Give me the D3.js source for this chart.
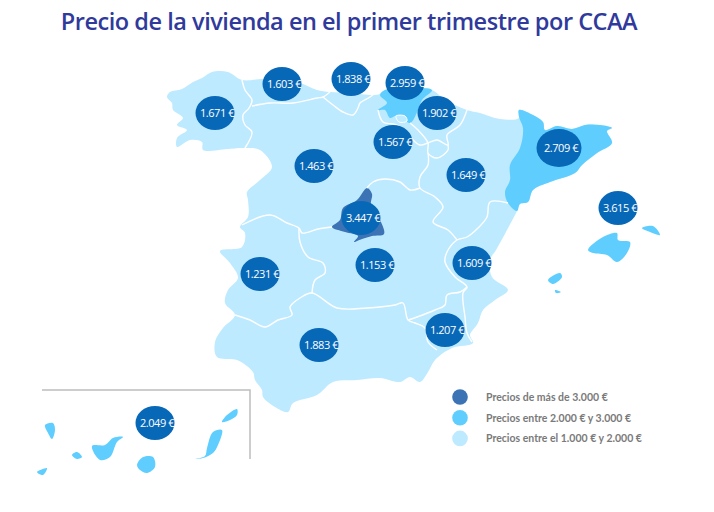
<!DOCTYPE html>
<html>
<head>
<meta charset="utf-8">
<script src="https://cdn.jsdelivr.net/npm/d3@7"></script>
<style>
  html, body { margin: 0; background: #fff; }
</style>
</head>
<body>
<div class="chart"></div>
<script>
// prices per region
const regions = ["Galicia", "Asturias", "Cantabria", "País Vasco", "Navarra", "La Rioja", "Castilla y León", "Aragón", "Cataluña", "Baleares", "Madrid", "Castilla-La Mancha", "C. Valenciana", "Extremadura", "Andalucía", "Murcia", "Canarias"];
const prices = [1671, 1603, 1838, 2959, 1902, 1567, 1463, 1649, 2709, 3615, 3447, 1153, 1609, 1231, 1883, 1207, 2049];
// where each bubble sits on the traced map
const bubbleX = [215, 282, 351, 405, 437, 393, 314, 466, 559, 618, 361, 375, 472, 260, 319, 445, 155];
const bubbleY = [113, 84, 79, 83, 113, 142, 166, 175, 148, 208, 218, 265, 263, 274, 345, 330, 423];

const legendLabels = ["Precios de más de 3.000 €", "Precios entre 2.000 € y 3.000 €", "Precios entre el 1.000 € y 2.000 €"];
const legendPrices = [3500, 2500, 1500];
// the picture paints Baleares in the middle tier although its label is above 3.000 €
const balearesTierPrice = 2500;

// map outlines
const cataluna = [[519,110],[533,115],[543,122],[545,130],[557,126],[572,129],[585,125],[600,125],[612,128],[607,131],[612,143],[597,153],[582,165],[575,173],[550,182],[533,190],[528,202],[520,204],[517,211],[508,203],[505,192],[510,180],[510,165],[520,148],[523,128],[519,117]];
const peninsula = [[167,97],[170,92],[182,89],[193,82],[202,78],[212,72],[228,72],[242,80],[263,79],[285,81],[300,83],[317,90],[330,92],[350,93],[373,95],[380,94],[385,90],[410,88],[432,90],[445,100],[467,110],[480,113],[500,119],[519,118],
  [519,110],[533,115],[543,122],[545,130],[557,126],[572,129],[585,125],[600,125],[612,128],[607,131],[612,143],[597,153],[582,165],[575,173],[550,182],[533,190],[528,202],[520,204],[517,211],
  [507,230],[496,250],[490,260],[492,277],[508,290],[495,300],[483,310],[478,323],[470,335],[473,343],[452,348],[435,360],[428,372],[420,382],[410,377],[400,382],[380,378],[357,380],[333,382],[317,395],[293,403],[288,412],[275,407],[263,397],[262,390],[255,380],[253,372],[237,360],[217,357],[215,342],[223,328],[235,315],
  [225,303],[228,290],[238,278],[230,263],[220,251],[242,247],[245,233],[240,227],[248,217],[248,200],[247,192],[260,180],[272,167],[260,150],[243,148],[227,149],[203,150],[202,142],[190,140],[177,147],[177,138],[187,130],[177,125],[183,118],[173,110],[172,103]];
const paisVasco = [[380,95],[385,90],[410,88],[432,90],[422,100],[418,110],[410,123],[398,115],[390,118],[385,110],[378,110],[387,103]];
const trevino = [[396,116],[405,116],[407,121],[399,122]];
const madrid = [[367,188],[372,194],[371,204],[376,214],[381,222],[384,234],[372,236],[362,239],[354,242],[358,236],[345,232],[332,227],[340,220],[343,208],[357,200]];
const mallorca = [[588,250],[603,237],[617,233],[618,240],[630,242],[627,253],[617,262],[607,255],[593,253]];
const menorca = [[642,228],[653,226],[660,235],[650,232]];
const ibiza = [[548,280],[560,273],[562,277],[553,284]];
const formentera = [[555,290],[561,292],[556,293]];
const laPalma = [[45,425],[53,423],[55,430],[52,439],[48,433]];
const gomera = [[72,455],[77,452],[82,457],[77,459]];
const hierro = [[37,472],[47,468],[43,475]];
const tenerife = [[92,446],[105,445],[113,438],[123,437],[117,442],[110,457],[100,460]];
const granCanaria = [[137,465],[143,457],[153,457],[155,467],[147,473],[140,470]];
const fuerteventura = [[195,459],[205,456],[207,448],[213,432],[222,430],[218,445],[213,453],[203,458]];
const lanzarote = [[222,422],[227,415],[237,409],[237,415],[230,420]];

// inner borders between regions
const borders = [
  [[242,80],[245,90],[252,100],[249,108],[243,115],[245,125],[252,132],[245,148]],
  [[252,106],[270,103],[293,103],[317,98],[323,97],[330,92]],
  [[323,97],[333,105],[343,112],[353,115],[358,108],[360,103],[370,97],[378,91]],
  [[378,110],[383,122],[397,125],[410,137],[420,145],[428,143],[437,140],[448,145],[447,135],[460,125],[467,110]],
  [[410,123],[418,130],[428,143],[428,153],[437,158],[448,150],[448,145]],
  [[428,153],[428,165],[420,177],[420,188],[435,197],[443,207],[433,222],[448,230],[457,240]],
  [[420,188],[410,190],[400,182],[385,179],[373,182],[367,188]],
  [[242,225],[270,215],[287,223],[299,228],[302,233],[318,229],[332,227]],
  [[299,228],[300,242],[308,257],[323,263],[325,273],[315,280],[312,293]],
  [[235,315],[250,320],[265,327],[278,320],[292,315],[290,307],[300,298],[312,293],[337,308],[367,308],[395,305],[403,303],[408,320],[415,323],[425,328],[428,342],[437,350]],
  [[408,320],[417,317],[435,310],[445,305],[447,295],[460,292],[467,287]],
  [[508,203],[490,202],[487,217],[478,228],[467,237],[457,240],[447,252],[445,262],[455,277],[467,287],[463,293],[465,317],[467,333],[472,342]]
];

const width = 714, height = 512;

const svg = d3.select(".chart").append("svg")
  .attr("width", width)
  .attr("height", height);

const projection = d3.geoIdentity();

//smooth outlines through the traced points
const outline = d3.line()
  .x(d => projection(d)[0])
  .y(d => projection(d)[1])
  .curve(d3.curveCatmullRomClosed.alpha(0.5));
const borderLine = d3.line()
  .x(d => projection(d)[0])
  .y(d => projection(d)[1])
  .curve(d3.curveCatmullRom.alpha(0.5));

const colour = d3.scaleThreshold()
  .domain([2000, 3000])
  .range(["#bdeaff", "#5fceff", "#3b73b4"]);

const priceOf = name => prices[regions.indexOf(name)];

// title
svg.append("text")
  .attr("x", 349)
  .attr("y", 30)
  .attr("text-anchor", "middle")
  .attr("font-family", "Open Sans")
  .attr("font-size", 23.5)
  .attr("font-weight", 600)
  .attr("letter-spacing", -0.47)
  .attr("fill", "#2f3a9c")
  .text("Precio de la vivienda en el primer trimestre por CCAA");

// peninsula, then the regions that stand out
svg.append("path")
  .attr("d", outline(peninsula))
  .attr("fill", colour(1500));

svg.append("g")
  .selectAll("path")
  .data([[cataluna, "Cataluña"], [paisVasco, "País Vasco"], [madrid, "Madrid"]])
  .join("path")
  .attr("d", d => outline(d[0]))
  .attr("fill", d => colour(priceOf(d[1])));

svg.append("path")
  .attr("d", outline(trevino))
  .attr("fill", colour(1500))
  .attr("stroke", "#fff");

svg.append("g")
  .selectAll("path")
  .data(borders)
  .join("path")
  .attr("d", borderLine)
  .attr("fill", "none")
  .attr("stroke", "#fff")
  .attr("stroke-width", 1.4)
  .attr("stroke-linejoin", "round");

svg.append("g")
  .selectAll("path")
  .data([mallorca, menorca, ibiza, formentera])
  .join("path")
  .attr("d", outline)
  .attr("fill", colour(balearesTierPrice));

// Canarias inset
svg.append("g")
  .selectAll("path")
  .data([laPalma, gomera, hierro, tenerife, granCanaria, fuerteventura, lanzarote])
  .join("path")
  .attr("d", outline)
  .attr("fill", colour(priceOf("Canarias")));

svg.append("path")
  .attr("d", d3.line()([[42, 390], [250, 390], [250, 459]]))
  .attr("fill", "none")
  .attr("stroke", "#bdbdbd")
  .attr("stroke-width", 1.5);

// bubbles with the price
const fmt = d3.formatLocale({decimal: ",", thousands: ".", grouping: [3], currency: ["", " €"]}).format("$,");

const bubble = svg.append("g")
  .selectAll("g")
  .data(regions)
  .join("g")
  .attr("transform", (d, i) => `translate(${projection([bubbleX[i], bubbleY[i]])})`);

bubble.append("ellipse")
  .attr("rx", d => d === "Cataluña" ? 22.5 : 19.5)
  .attr("ry", d => d === "Cataluña" ? 19 : 17)
  .attr("fill", "#0868b8");

bubble.append("text")
  .attr("x", -15)
  .attr("y", 4)
  .attr("font-family", "Open Sans")
  .attr("font-size", 11)
  .attr("letter-spacing", -0.45)
  .attr("fill", "#fff")
  .text((d, i) => fmt(prices[i]));

// legend
const legend = svg.append("g")
  .selectAll("g")
  .data(legendLabels)
  .join("g")
  .attr("transform", (d, i) => `translate(460,${397 + i * 20.7})`);

legend.append("circle")
  .attr("r", 7.8)
  .attr("fill", (d, i) => colour(legendPrices[i]));

legend.append("text")
  .attr("x", 26)
  .attr("y", 4)
  .attr("font-family", "Lato")
  .attr("font-size", 10.5)
  .attr("font-weight", 700)
  .attr("fill", "#7a7a7a")
  .text(d => d);
</script>
</body>
</html>
